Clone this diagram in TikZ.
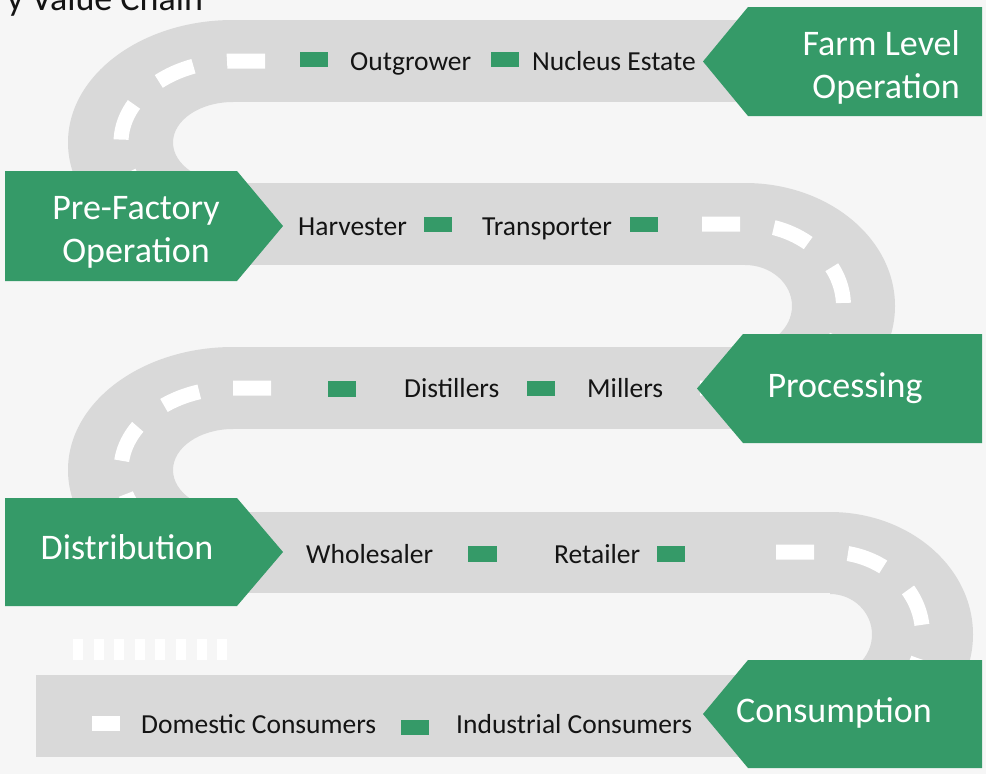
\documentclass[tikz,border=0pt]{standalone}
\usepackage{fontspec}
\setmainfont{Carlito}
\setsansfont{Carlito}
\usepackage{xcolor}
\usepackage{tikz}
\usetikzlibrary{calc}
\definecolor{roadgrey}{RGB}{217,217,217}
\definecolor{stagegreen}{RGB}{53,154,104}
\definecolor{paper}{RGB}{246,246,246}
\definecolor{inkblack}{RGB}{20,20,20}

\tikzset{
  road/.style={fill=roadgrey},
  lane/.style={draw=white, line width=15pt, dash pattern=on 38pt off 34pt},
  stage/.style={fill=stagegreen},
  marker/.style={fill=stagegreen},
  stagetext/.style={text=white, font=\sffamily\fontsize{36}{43}\selectfont, inner sep=0pt},
  stoptext/.style={text=inkblack, font=\sffamily\fontsize{27.5}{32}\selectfont, inner sep=0pt, anchor=base west},
}

\begin{document}
\begin{tikzpicture}[font=\sffamily, x=1pt, y=-1pt]
    \useasboundingbox (0,0) rectangle (986,774);
    \fill[paper] (0,0) rectangle (986,774);

    % Title, running off the top edge
    \node (title) [anchor=base west, inner sep=0pt, text=inkblack, font=\sffamily\fontsize{36}{43}\selectfont] at (7,10) {y Value Chain};

    % Hairpin bends
    \fill[road] (233,20) arc[start angle=270, end angle=90, x radius=165, y radius=122.5] -- (233,183) arc[start angle=90, end angle=270, x radius=60, y radius=40.5] -- cycle;
    \fill[road] (745,183) arc[start angle=-90, end angle=90, x radius=150, y radius=123] -- (745,347) arc[start angle=90, end angle=-90, x radius=47, y radius=41] -- cycle;
    \fill[road] (233,347) arc[start angle=270, end angle=90, x radius=165, y radius=123] -- (233,511) arc[start angle=90, end angle=270, x radius=60, y radius=41] -- cycle;
    \fill[road] (830,512) arc[start angle=-90, end angle=90, x radius=143, y radius=122.5] -- (830,675) arc[start angle=90, end angle=-90, x radius=42, y radius=40.5] -- cycle;

    % Straight stretches
    \fill[road] (228,20) rectangle (760,102);
    \fill[road] (228,183) rectangle (750,265);
    \fill[road] (228,347) rectangle (750,429);
    \fill[road] (228,512) rectangle (835,593);
    \fill[road] (36,675) rectangle (835,757);

    % Centre line through the bends
    \draw[lane] (265,61) -- (233,61) arc[start angle=270, end angle=90, x radius=112, y radius=81.5] -- (262,224);
    \draw[lane] (702,224) -- (745,224) arc[start angle=-90, end angle=90, x radius=98.5, y radius=82] -- (700,388);
    \draw[lane] (271,388) -- (233,388) arc[start angle=270, end angle=90, x radius=112, y radius=82] -- (262,552);
    \draw[lane] (776,552) -- (830,552) arc[start angle=-90, end angle=90, x radius=92.5, y radius=82] -- (780,716);

    % Crossing stripes
    \foreach \i in {0,...,7}
        \fill[white] ({73+20.6*\i},639) rectangle ++(10,21);

    % Stop markers
    \fill[marker] (300,52) rectangle (328,67);
    \fill[marker] (491,52) rectangle (519,67);
    \fill[marker] (424,217) rectangle (452,232);
    \fill[marker] (630,217) rectangle (658,232);
    \fill[marker] (328,381) rectangle (356,397);
    \fill[marker] (527,381) rectangle (555,396);
    \fill[marker] (468,546) rectangle (497,562);
    \fill[marker] (657,546) rectangle (685,562);
    \fill[white] (92,716) rectangle (120,731);
    \fill[marker] (401,720) rectangle (429,735);

    % Stage banners
    \fill[stage] (982,7) -- (748,7) -- (703,61.5) -- (748,116) -- (982,116) -- cycle;
    \fill[stage] (5,171) -- (237,171) -- (283,226) -- (237,281) -- (5,281) -- cycle;
    \fill[stage] (982,334) -- (743,334) -- (697,388.5) -- (743,443) -- (982,443) -- cycle;
    \fill[stage] (5,498) -- (237,498) -- (283,552) -- (237,606) -- (5,606) -- cycle;
    \fill[stage] (982,660) -- (748,660) -- (703,714) -- (748,768) -- (982,768) -- cycle;

    \node (farm) [stagetext, align=right, anchor=east] at (960,67) {Farm Level\\Operation};
    \node (prefactory) [stagetext, align=center] at (136,232) {Pre-Factory\\Operation};
    \node (processing) [stagetext, anchor=base] at (845,397) {Processing};
    \node (distribution) [stagetext, anchor=base] at (127,559) {Distribution};
    \node (consumption) [stagetext, anchor=base] at (834,722) {Consumption};

    % Stops along the road
    \node (outgrower) [stoptext] at (350,70) {Outgrower};
    \node (nucleus) [stoptext] at (532,70) {Nucleus Estate};
    \node (harvester) [stoptext] at (298,235) {Harvester};
    \node (transporter) [stoptext] at (482,235) {Transporter};
    \node (distillers) [stoptext] at (404,397) {Distillers};
    \node (millers) [stoptext] at (587,397) {Millers};
    \node (wholesaler) [stoptext] at (306,563) {Wholesaler};
    \node (retailer) [stoptext] at (554,563) {Retailer};
    \node (domestic) [stoptext] at (141,733) {Domestic Consumers};
    \node (industrial) [stoptext] at (456,733) {Industrial Consumers};
\end{tikzpicture}
\end{document}
